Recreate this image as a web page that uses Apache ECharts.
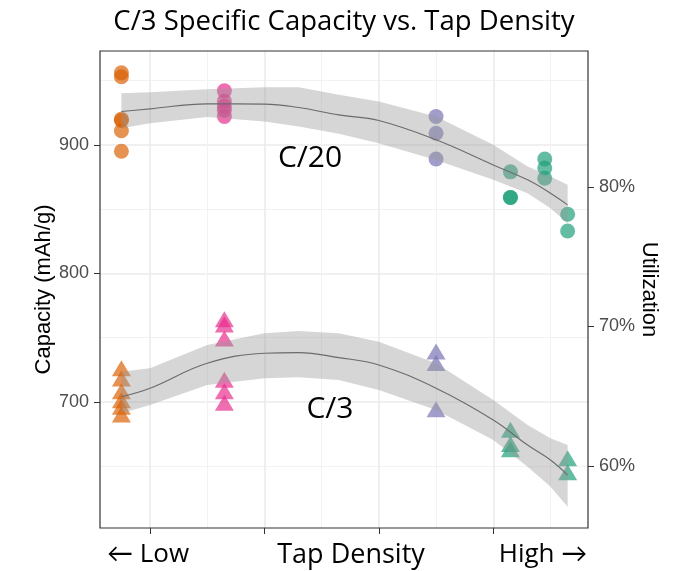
<!DOCTYPE html>
<html>
<head>
<meta charset="utf-8">
<script src="https://cdn.jsdelivr.net/npm/echarts@6/dist/echarts.min.js"></script>
<style>
  html, body { margin: 0; padding: 0; background: #ffffff; }
  #chart { width: 679px; height: 571px; }
</style>
</head>
<body>
<div id="chart"></div>
<script>
// Tap density of each sample (arbitrary units, axis shows only Low -> High)
const densities = [0.95, 1.13, 1.50, 1.63, 1.69, 1.73];
const sampleColors = ['#D95F02', '#E7298A', '#7570B3', '#1B9E77', '#1B9E77', '#1B9E77'];

// Specific capacity (mAh/g) of each cell, per sample
const c20Values = [
  [956, 953, 920, 919, 911, 895],
  [942, 934, 930, 927, 922],
  [922, 909, 889],
  [879, 859, 859],
  [889, 882, 874],
  [846, 833]
];
const c3Values = [
  [724, 716, 706, 699, 694, 688],
  [762, 758, 747, 715, 706, 697],
  [737, 728, 692],
  [676, 665, 661],
  [],
  [654, 643]
];

// Smoothed trend with confidence band
const fitX = [0.95, 1.00, 1.10, 1.20, 1.26, 1.33, 1.40, 1.50, 1.60, 1.66, 1.70, 1.73];
const c20Fit   = [925.9, 928.0, 931.9, 931.7, 929.0, 923.3, 918.9, 903.9, 884.4, 872.8, 862.4, 853.3];
const c20Upper = [940.2, 941.0, 943.3, 944.9, 944.9, 938.9, 933.7, 922.0, 900.0, 883.1, 875.3, 868.9];
const c20Lower = [913.0, 916.9, 921.6, 918.1, 914.2, 908.6, 901.3, 888.3, 872.8, 862.4, 850.7, 839.1];
const c3Fit    = [704.1, 710.7, 730.1, 737.9, 738.4, 734.5, 728.8, 710.7, 686.0, 666.5, 654.9, 643.2];
const c3Upper  = [723.6, 726.2, 744.4, 753.5, 755.3, 753.5, 746.9, 730.1, 701.6, 682.1, 671.8, 666.5];
const c3Lower  = [691.2, 697.7, 713.2, 718.4, 719.2, 717.1, 709.3, 693.8, 670.4, 649.7, 634.1, 618.5];

// Axis settings
const densityMin = 0.9126, densityMax = 1.7656;
const densityTicks = [1.0, 1.2, 1.4, 1.6];
const capMin = 602, capMax = 973;
const capTicks = [700, 800, 900];
const theoreticalCapacity = 1084;
const utilTicks = [0.6, 0.7, 0.8];

const chart = echarts.init(document.getElementById('chart'));

const scatterSeries = [];
function addPoints(valuesBySample, symbol, size, offset) {
  valuesBySample.forEach((vals, i) => {
    if (!vals.length) return;
    scatterSeries.push({
      type: 'scatter',
      xAxisIndex: 0, yAxisIndex: 0,
      symbol: symbol,
      symbolSize: size,
      symbolOffset: offset,
      z: 2,
      silent: true,
      itemStyle: { color: sampleColors[i], opacity: 0.68 },
      data: vals.map(v => [densities[i], v])
    });
  });
}
addPoints(c20Values, 'circle', 15, [0, 0]);
addPoints(c3Values, 'triangle', [19, 16], [0, -3]);

function bandSeries(upper, lower) {
  return {
    type: 'custom',
    xAxisIndex: 0, yAxisIndex: 0,
    z: 3,
    silent: true,
    clip: true,
    data: [[fitX[0], upper[0]]],
    renderItem: function (params, api) {
      const pts = [];
      for (let i = 0; i < fitX.length; i++) pts.push(api.coord([fitX[i], upper[i]]));
      for (let i = fitX.length - 1; i >= 0; i--) pts.push(api.coord([fitX[i], lower[i]]));
      return {
        type: 'polygon',
        shape: { points: pts },
        style: { fill: 'rgba(153,153,153,0.4)' }
      };
    }
  };
}
function fitSeries(fit) {
  return {
    type: 'line',
    xAxisIndex: 0, yAxisIndex: 0,
    z: 4,
    silent: true,
    showSymbol: false,
    smooth: 0.4,
    lineStyle: { color: '#6b6b6b', width: 1.1 },
    data: fitX.map((x, i) => [x, fit[i]])
  };
}

const labelFont = '"Open Sans", Lato, sans-serif';
const axisFont = '"Liberation Sans", Arial, sans-serif';
const tickColor = '#333333';

chart.setOption({
  animation: false,
  backgroundColor: '#ffffff',
  grid: { left: 100, right: 91, top: 51, bottom: 43, show: false },
  xAxis: {
    type: 'value',
    min: densityMin, max: densityMax,
    axisLine: { show: false },
    axisTick: { show: true, customValues: densityTicks, length: 6, lineStyle: { color: tickColor, width: 1 } },
    axisLabel: { show: false },
    splitLine: { show: true, lineStyle: { color: '#EBEBEB', width: 1.6 } },
    minorTick: { show: false, splitNumber: 2 },
    minorSplitLine: { show: true, lineStyle: { color: '#F2F2F2', width: 1 } }
  },
  yAxis: [
    {
      type: 'value',
      position: 'left',
      min: capMin, max: capMax,
      axisLine: { show: false },
      axisTick: { show: true, customValues: capTicks, length: 6, lineStyle: { color: tickColor, width: 1 } },
      axisLabel: { customValues: capTicks, color: '#4D4D4D', fontSize: 18, fontFamily: axisFont, margin: 11 },
      splitLine: { show: true, lineStyle: { color: '#EBEBEB', width: 1.6 } },
      minorTick: { show: false, splitNumber: 2 },
      minorSplitLine: { show: true, lineStyle: { color: '#F2F2F2', width: 1 } },
      name: 'Capacity (mAh/g)',
      nameLocation: 'middle',
      nameMoveOverlap: false,
      nameGap: 45,
      nameTextStyle: { color: '#000', fontSize: 22, fontFamily: axisFont }
    },
    {
      type: 'value',
      position: 'right',
      min: capMin / theoreticalCapacity, max: capMax / theoreticalCapacity,
      axisLine: { show: false },
      axisTick: { show: true, customValues: utilTicks, length: 6, lineStyle: { color: tickColor, width: 1 } },
      axisLabel: {
        customValues: utilTicks, color: '#4D4D4D', fontSize: 18, fontFamily: axisFont, margin: 11,
        formatter: v => Math.round(v * 100) + '%'
      },
      splitLine: { show: false },
      name: 'Utilization',
      nameLocation: 'middle',
      nameRotate: -90,
      nameMoveOverlap: false,
      nameGap: 50,
      nameTextStyle: { color: '#000', fontSize: 22, fontFamily: axisFont }
    }
  ],
  graphic: [
    // panel border
    { type: 'rect', z: 100, silent: true, shape: { x: 100, y: 51, width: 488, height: 477 }, style: { fill: 'none', stroke: '#333333', lineWidth: 1.2 } },
    { type: 'text', x: 344, y: 22, style: { text: 'C/3 Specific Capacity vs. Tap Density', font: '27.5px ' + labelFont, fill: '#000', align: 'center', verticalAlign: 'middle' } },
    { type: 'text', x: 148, y: 555, style: { text: '← Low', font: '26px ' + labelFont, fill: '#000', align: 'center', verticalAlign: 'middle' } },
    { type: 'text', x: 351, y: 555, style: { text: 'Tap Density', font: '27px ' + labelFont, fill: '#000', align: 'center', verticalAlign: 'middle' } },
    { type: 'text', x: 543, y: 555, style: { text: 'High →', font: '26px ' + labelFont, fill: '#000', align: 'center', verticalAlign: 'middle' } },
    { type: 'text', x: 310, y: 158, z: 10, style: { text: 'C/20', font: '30px ' + labelFont, fill: '#000', align: 'center', verticalAlign: 'middle' } },
    { type: 'text', x: 330, y: 409, z: 10, style: { text: 'C/3', font: '30px ' + labelFont, fill: '#000', align: 'center', verticalAlign: 'middle' } }
  ],
  series: scatterSeries.concat([
    bandSeries(c20Upper, c20Lower), fitSeries(c20Fit),
    bandSeries(c3Upper, c3Lower), fitSeries(c3Fit)
  ])
});
</script>
</body>
</html>
